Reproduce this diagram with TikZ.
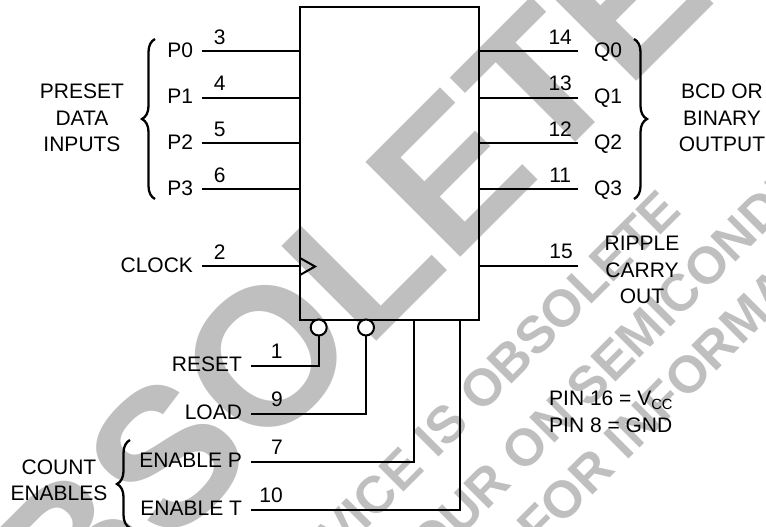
\documentclass[tikz,border=0pt]{standalone}
\usepackage{fontspec}
\setmainfont{Liberation Sans}
\usetikzlibrary{decorations.pathreplacing}

\begin{document}
\begin{tikzpicture}[x=1pt,y=-1pt]
   \tikzstyle{every node}=[font=\fontsize{21}{26.5}\selectfont]
   \tikzstyle{wire}=[line width=2pt]
   \tikzstyle{inlab}=[anchor=east, inner xsep=9pt, inner ysep=0pt, outer sep=0pt, text height=15pt, text depth=3pt]
   \tikzstyle{outlab}=[anchor=west, inner xsep=16pt, inner ysep=0pt, outer sep=0pt, text height=15pt, text depth=3pt]
   \tikzstyle{pinnum}=[above=6pt, inner sep=0pt]
   \tikzstyle{group}=[align=center, inner sep=0pt]
   \tikzstyle{bubble}=[draw, circle, fill=white, line width=2pt, minimum size=16pt, inner sep=0pt, outer sep=0pt]
   \tikzstyle{curly}=[line width=2.3pt, decorate, decoration={brace, amplitude=13pt}]
   \tikzstyle{big}=[text=wm, font=\fontsize{195}{195}\selectfont\bfseries, rotate=45, inner sep=0pt]
   \tikzstyle{small}=[text=wm, font=\fontsize{52}{52}\selectfont\bfseries, rotate=45, inner sep=0pt, anchor=base west]
   \definecolor{wm}{gray}{0.75}

\useasboundingbox (0,0) rectangle (766,527);

% watermark
\begin{scope}
   \clip (0,0) rectangle (766,527);
   \node[big] (wmbig) at (293,330) {OBSOLETE};
   \node[small] (wmone) at (289,607) {DEVICE IS OBSOLETE};
   \node[small] (wmtwo) at (407,591) {YOUR ON SEMICONDUCTOR};
   \node[small] (wmthree) at (539,549) {FOR INFORMATION};
\end{scope}

\node[draw, line width=2pt, minimum width=179pt, minimum height=312.5pt, inner sep=0pt, outer sep=0pt] (chip) at (389.5,163.3) {};

% inputs
\node[inlab] (p0) at (202,51.5) {P0};
\node[inlab] (p1) at (202,97.5) {P1};
\node[inlab] (p2) at (202,143.3) {P2};
\node[inlab] (p3) at (202,189.3) {P3};
\node[inlab] (clock) at (202,266) {CLOCK};
\draw[wire] (p0.east) -- node[pinnum, pos=.18] (n3) {3} (p0.east -| chip.west);
\draw[wire] (p1.east) -- node[pinnum, pos=.18] (n4) {4} (p1.east -| chip.west);
\draw[wire] (p2.east) -- node[pinnum, pos=.18] (n5) {5} (p2.east -| chip.west);
\draw[wire] (p3.east) -- node[pinnum, pos=.18] (n6) {6} (p3.east -| chip.west);
\draw[wire] (clock.east) -- node[pinnum, pos=.18] (n2) {2} (clock.east -| chip.west);
\draw[wire] (300,258) -- (315,266.5) -- (300,275);

% outputs
\node[outlab] (q0) at (578,51.5) {Q0};
\node[outlab] (q1) at (578,97.5) {Q1};
\node[outlab] (q2) at (578,143.3) {Q2};
\node[outlab] (q3) at (578,189.3) {Q3};
\coordinate (rco) at (578,266);
\draw[wire] (q0.west -| chip.east) -- node[pinnum, pos=.82] (n14) {14} (q0.west);
\draw[wire] (q1.west -| chip.east) -- node[pinnum, pos=.82] (n13) {13} (q1.west);
\draw[wire] (q2.west -| chip.east) -- node[pinnum, pos=.82] (n12) {12} (q2.west);
\draw[wire] (q3.west -| chip.east) -- node[pinnum, pos=.82] (n11) {11} (q3.west);
\draw[wire] (rco -| chip.east) -- node[pinnum, pos=.83] (n15) {15} (rco);
\node[group] (ripple) at (642,270) {RIPPLE\\CARRY\\OUT};

% bottom pins
\node[bubble] (rbub) at (318.7,327.5) {};
\node[bubble] (lbub) at (366,327.5) {};
\node[inlab] (reset) at (251,365.5) {RESET};
\node[inlab] (load) at (251,413.7) {LOAD};
\node[inlab] (enp) at (251,461.7) {ENABLE P};
\node[inlab] (ent) at (251,509.7) {ENABLE T};
\coordinate (enpin) at (413.7,319.5);
\coordinate (entin) at (460.3,319.5);
\draw[wire] (reset.east) -- node[pinnum, pos=.38] (n1) {1} (reset.east -| rbub.south) -- (rbub.south);
\draw[wire] (load.east) -- node[pinnum, pos=.226] (n9) {9} (load.east -| lbub.south) -- (lbub.south);
\draw[wire] (enp.east) -- node[pinnum, pos=.16] (n7) {7} (enp.east -| enpin) -- (enpin);
\draw[wire] (ent.east) -- node[pinnum, pos=.096] (n10) {10} (ent.east -| entin) -- (entin);

% braces and group names
\coordinate (pbot) at (155,199);
\coordinate (ptop) at (155,39);
\coordinate (qtop) at (634,39);
\coordinate (qbot) at (634,199);
\coordinate (cbot) at (130,528);
\coordinate (ctop) at (130,440);
\draw[curly] (pbot) -- (ptop);
\draw[curly] (qtop) -- (qbot);
\begin{scope}
   \clip (0,0) rectangle (766,527);
   \draw[curly] (cbot) -- (ctop);
\end{scope}
\node[group] (preset) at (82,118) {PRESET\\DATA\\INPUTS};
\node[group] (binary) at (722,118) {BCD OR\\BINARY\\OUTPUT};
\node[group] (count) at (59,480.5) {COUNT\\ENABLES};

\node[anchor=west, align=left, inner sep=0pt] (pins) at (549,412) {PIN 16 = V\textsubscript{CC}\\PIN 8 = GND};

\end{tikzpicture}
\end{document}
